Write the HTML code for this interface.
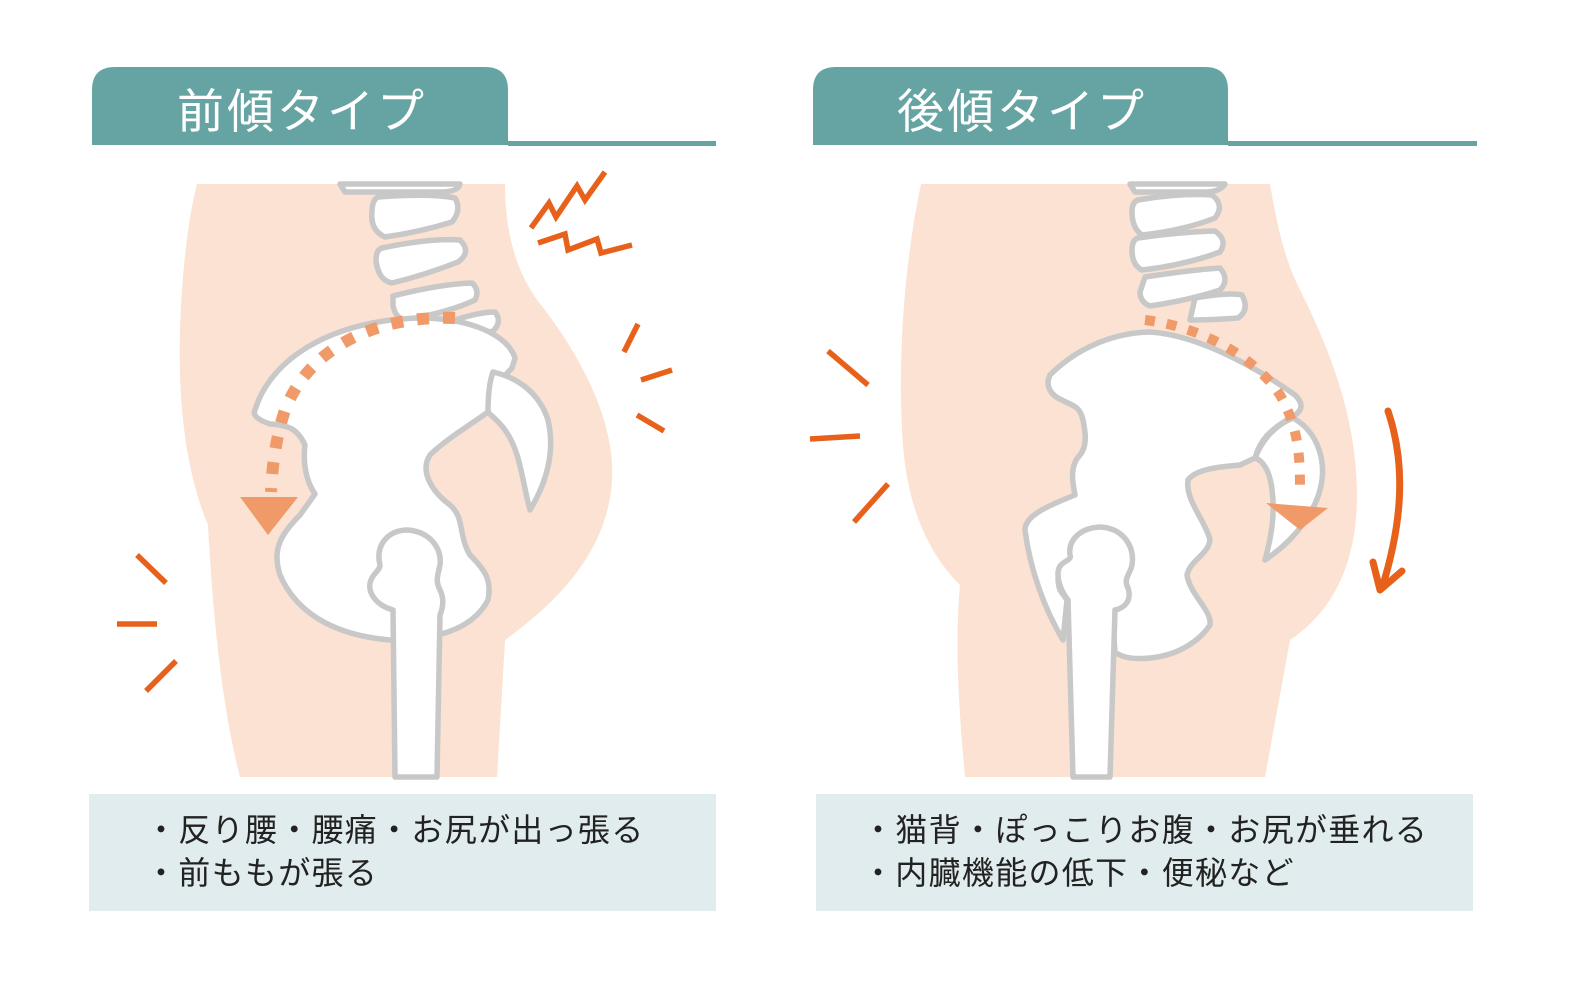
<!DOCTYPE html>
<html><head><meta charset="utf-8"><style>
html,body{margin:0;padding:0;background:#fff;width:1570px;height:1000px;overflow:hidden}
svg{display:block}
text{font-family:"Liberation Sans","Noto Sans CJK JP",sans-serif}
</style></head><body>
<svg width="1570" height="1000" viewBox="0 0 1570 1000" xmlns="http://www.w3.org/2000/svg">
<path d="M92,145 V90 Q92,67 115,67 H485 Q508,67 508,90 V145 Z" fill="#66a3a3"/>
<rect x="508" y="141" width="208" height="5" fill="#66a3a3"/>
<text x="177" y="128" font-size="47" fill="#fff" letter-spacing="3">前傾タイプ</text>
<path d="M813,145 V90 Q813,67 836,67 H1205 Q1228,67 1228,90 V145 Z" fill="#66a3a3"/>
<rect x="1228" y="141" width="249" height="5" fill="#66a3a3"/>
<text x="897" y="128" font-size="47" fill="#fff" letter-spacing="3">後傾タイプ</text>

<path d="M197,184 H505 C505,230 515,275 545,310 C590,370 615,430 612,480 C608,550 560,600 505,640 L497,777 H240 C220,700 212,600 208,525 C185,470 178,400 180,330 C182,270 188,220 197,184 Z" fill="#fbe2d2"/>
<path d="M921,184 H1270 C1278,230 1285,260 1300,290 C1335,360 1355,420 1357,490 C1358,560 1335,610 1290,640 L1265,777 H965 C958,700 955,640 960,585 C925,550 905,500 902,430 C898,350 905,260 921,184 Z" fill="#fbe2d2"/>

<g fill="#fff" stroke="#c8c8c8" stroke-width="5.5" stroke-linejoin="round">
<path d="M340,184 H460 Q458,192 440,192 H345 Z"/>
<path d="M378,197 Q430,193 455,198 Q462,210 452,222 Q420,232 385,237 Q370,230 372,212 Q372,200 378,197 Z"/>
<path d="M382,248 Q430,238 460,240 Q472,252 458,262 Q425,275 392,283 Q378,280 376,260 Q376,250 382,248 Z"/>
<path d="M393,296 Q440,284 472,283 Q480,290 475,300 Q450,312 405,320 Q395,318 393,305 Z"/>
<path d="M455,320 Q480,312 495,312 Q503,322 492,332 L468,328 Z"/>
<path d="M255,410 C270,360 330,320 420,318 C470,318 508,335 515,358 L512,368 C500,380 490,395 488,412 C470,425 445,440 430,455 C420,470 430,490 450,505 C465,518 458,535 470,555 C485,570 492,580 488,600 C475,625 445,640 390,640 C330,635 295,610 280,575 C272,550 280,535 300,515 L315,494 C305,480 303,460 305,445 C298,430 290,425 270,424 C258,420 252,415 255,410 Z"/>
<path d="M493,372 C520,378 540,395 548,420 C555,450 548,480 530,510 C522,480 520,450 505,430 C498,420 490,415 488,412 C488,395 490,380 493,372 Z"/>
<path d="M395,777 L393,610 C375,605 365,590 372,578 C375,572 380,570 380,565 C375,545 388,530 408,530 C430,532 442,548 440,565 C438,575 435,580 440,590 C445,600 442,610 440,615 L437,777 Z"/>

<path d="M1130,184 H1225 Q1220,192 1205,192 H1135 Z"/>
<path d="M1138,200 Q1180,193 1212,195 Q1225,205 1215,218 Q1185,230 1142,235 Q1132,228 1132,212 Q1132,202 1138,200 Z"/>
<path d="M1138,238 Q1180,232 1215,231 Q1228,240 1220,252 Q1185,265 1142,270 Q1132,265 1132,250 Q1132,240 1138,238 Z"/>
<path d="M1145,277 Q1190,270 1220,268 Q1230,280 1220,290 Q1190,300 1150,306 Q1140,302 1140,292 Z"/>
<path d="M1195,298 Q1230,292 1242,295 Q1250,310 1238,318 Q1210,320 1190,320 Z"/>
<path d="M1050,375 C1075,350 1110,333 1150,332 C1200,335 1260,370 1295,395 C1305,405 1302,412 1290,418 C1270,430 1260,440 1255,458 L1240,465 C1215,467 1195,470 1188,480 C1185,500 1205,520 1210,540 C1208,555 1190,560 1187,575 C1190,595 1212,610 1210,625 C1200,640 1180,655 1150,658 C1130,660 1120,656 1115,652 L1112,610 C1125,608 1130,600 1128,590 C1125,582 1118,578 1125,570 C1132,560 1130,545 1120,535 C1110,525 1090,525 1080,535 C1070,545 1070,555 1072,560 C1060,565 1055,575 1060,590 L1067,600 L1063,640 C1045,610 1030,570 1025,530 C1025,515 1050,505 1075,495 C1072,480 1070,465 1080,455 C1088,445 1085,430 1083,420 C1080,405 1070,405 1062,400 C1050,395 1045,385 1050,375 Z"/>
<path d="M1293,418 C1315,430 1325,455 1322,480 C1318,510 1295,540 1265,560 C1272,535 1275,510 1272,490 C1270,470 1262,460 1255,458 C1262,440 1275,425 1293,418 Z"/>
<path d="M1073,777 L1068,600 C1060,590 1055,575 1060,566 C1065,560 1072,560 1070,555 C1068,540 1080,528 1100,527 C1122,528 1135,545 1132,565 C1130,575 1123,578 1128,588 C1132,600 1125,608 1115,610 L1110,777 Z"/>
</g>

<path d="M455,318 C380,315 310,345 285,410 C275,440 272,470 271,492" fill="none" stroke="#f09a6a" stroke-width="12" stroke-dasharray="12,14"/>
<polygon points="240,497 298,497 268,535" fill="#f09a6a"/>
<path d="M1145,320 C1190,325 1250,350 1280,395 C1300,430 1300,460 1300,495" fill="none" stroke="#f09a6a" stroke-width="10" stroke-dasharray="10,12"/>
<polygon points="1266,503 1328,508 1300,530" fill="#f09a6a"/>

<g fill="none" stroke="#e8611a" stroke-width="5.5" stroke-linecap="butt" stroke-linejoin="miter">
<polyline points="531,228 549,203 556,217 577,186 585,200 605,172"/>
<polyline points="538,243 565,234 568,250 597,239 601,253 632,245"/>
<line x1="638" y1="324" x2="624" y2="352"/>
<line x1="641" y1="380" x2="672" y2="370"/>
<line x1="637" y1="415" x2="664" y2="431"/>
<line x1="137" y1="555" x2="166" y2="583"/>
<line x1="117" y1="624" x2="157" y2="624"/>
<line x1="146" y1="691" x2="176" y2="661"/>
<line x1="828" y1="351" x2="868" y2="385"/>
<line x1="810" y1="439" x2="860" y2="436"/>
<line x1="854" y1="522" x2="888" y2="484"/>
<path d="M1388,411 C1408,470 1400,530 1382,588" stroke-width="7" stroke-linecap="round"/>
<polyline points="1373,562 1380,590 1402,571" stroke-width="7" stroke-linecap="round" stroke-linejoin="round"/>
</g>

<rect x="89" y="794" width="627" height="117" fill="#e1ecee"/>
<text x="145" y="841" font-size="32" fill="#222" letter-spacing="1.3">・反り腰・腰痛・お尻が出っ張る</text>
<text x="145" y="884" font-size="32" fill="#222" letter-spacing="1.3">・前ももが張る</text>
<rect x="816" y="794" width="657" height="117" fill="#e1ecee"/>
<text x="862" y="841" font-size="32" fill="#222" letter-spacing="1.3">・猫背・ぽっこりお腹・お尻が垂れる</text>
<text x="862" y="884" font-size="32" fill="#222" letter-spacing="1.3">・内臓機能の低下・便秘など</text>
</svg>
</body></html>
